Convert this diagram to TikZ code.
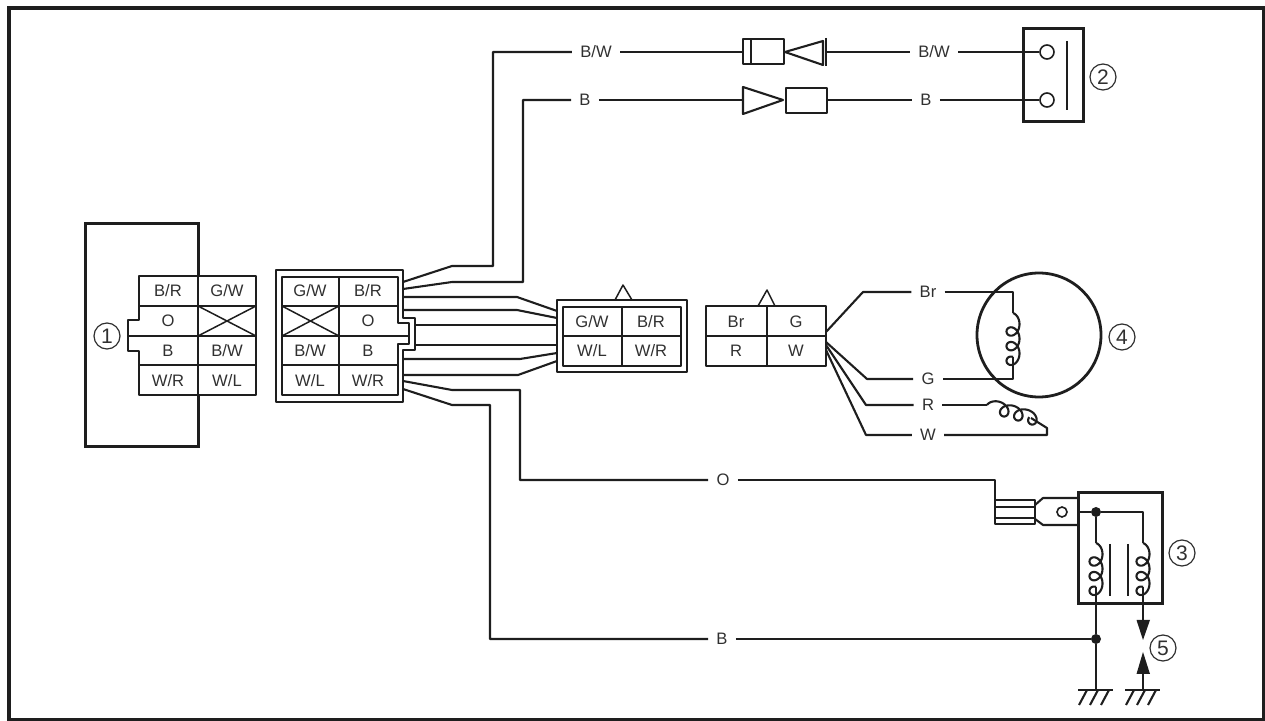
\documentclass[tikz,border=0pt]{standalone}
\usepackage{fontspec}
\setmainfont{Liberation Sans}
\usetikzlibrary{calc}
\definecolor{ink}{HTML}{1E1E1E}
\definecolor{txt}{HTML}{303030}
\tikzset{
  wire/.style={draw=ink, line width=1.05pt, line join=round},
  thin wire/.style={draw=ink, line width=0.75pt, line join=round},
  heavy/.style={draw=ink, line width=1.5pt, line join=miter},
  cell/.style={text=txt, font=\fontsize{8.3}{9}\selectfont, inner sep=0pt},
  wirelbl/.style={text=txt, font=\fontsize{8.3}{9}\selectfont, inner xsep=4pt, inner ysep=1pt},
  callout/.style={circle, draw=txt, line width=0.6pt, text=txt, inner sep=0pt, minimum size=13pt, font=\fontsize{10.5}{11}\selectfont},
  dot/.style={circle, fill=ink, inner sep=0pt, minimum size=5pt},
  hole/.style={circle, draw=ink, fill=white, line width=0.8pt, inner sep=0pt, minimum size=7pt},
  coil/.pic={
    \draw[wire] plot[domain=0:1080, samples=121, smooth] ({6.5*sin(\x)}, {0.0407*\x+7.5*(1-cos(\x))});
  },
  earth/.pic={
    \draw[wire] (-18,0) -- (17,0);
    \foreach \h in {-9,2,13} \draw[wire] (\h,0) -- ++(-8,15);
  }
}
\begin{document}
\begin{tikzpicture}[x=0.5pt, y=-0.5pt]
  \useasboundingbox (0,0) rectangle (1265,721);
  \draw[draw=ink, line width=1.9pt] (9,8) rectangle (1264,720);

  % connector 1 with its housing
  \draw[heavy] (198,276) -- (198,224) -- (85,224) -- (85,447) -- (198,447) -- (198,395);
  \draw[wire] (139,306) -- (139,276) -- (256,276) -- (256,395) -- (139,395) -- (139,365);
  \draw[wire] (139,306) -- (139,320) -- (128,320) -- (128,351) -- (139,351) -- (139,365);
  \draw[wire] (139,306) -- (256,306) (128,336) -- (256,336) (139,365) -- (256,365);
  \draw[thin wire] (198,276) -- (198,395);
  \draw[thin wire] (198,306) -- (256,336) (198,336) -- (256,306);
  \node[cell] (aBR) at (168,291) {B/R};
  \node[cell] (aGW) at (227,291) {G/W};
  \node[cell] (aO) at (168,321) {O};
  \node[cell] (aB) at (168,351) {B};
  \node[cell] (aBW) at (227,351) {B/W};
  \node[cell] (aWR) at (168,381) {W/R};
  \node[cell] (aWL) at (227,381) {W/L};
  \node[callout] (n1) at (107,336) {1};

  % connector 2, double walled
  \draw[wire] (276,270) -- (403,270) -- (403,318) -- (415,318) -- (415,350) -- (403,350) -- (403,402) -- (276,402) -- cycle;
  \draw[wire] (282,277) -- (398,277) -- (398,323) -- (409,323) -- (409,344) -- (398,344) -- (398,395) -- (282,395) -- cycle;
  \draw[wire] (282,306) -- (398,306) (282,336) -- (409,336) (282,365) -- (398,365);
  \draw[thin wire] (339,277) -- (339,395);
  \draw[thin wire] (282,306) -- (339,336) (282,336) -- (339,306);
  \node[cell] (bGW) at (310,291) {G/W};
  \node[cell] (bBR) at (368,291) {B/R};
  \node[cell] (bO) at (368,321) {O};
  \node[cell] (bBW) at (310,351) {B/W};
  \node[cell] (bB) at (368,351) {B};
  \node[cell] (bWL) at (310,381) {W/L};
  \node[cell] (bWR) at (368,381) {W/R};

  % connector 3
  \draw[wire] (557,300) rectangle (687,372);
  \draw[wire] (563,307) rectangle (681,366);
  \draw[wire] (563,336) -- (681,336);
  \draw[thin wire] (622,307) -- (622,366);
  \draw[thin wire] (615,300) -- (623,285) -- (632,300);
  \node[cell] (cGW) at (592,322) {G/W};
  \node[cell] (cBR) at (651,322) {B/R};
  \node[cell] (cWL) at (592,351) {W/L};
  \node[cell] (cWR) at (651,351) {W/R};

  % connector 4
  \draw[wire] (706,306) rectangle (826,366);
  \draw[thin wire] (706,336) -- (826,336) (767,306) -- (767,366);
  \draw[thin wire] (758,306) -- (767,290) -- (775,306);
  \node[cell] (dBr) at (736,322) {Br};
  \node[cell] (dG) at (796,322) {G};
  \node[cell] (dR) at (736,351) {R};
  \node[cell] (dW) at (796,351) {W};

  % labels on the long runs
  \node[wirelbl] (lBWa) at (596,52) {B/W};
  \node[wirelbl] (lBWb) at (934,52) {B/W};
  \node[wirelbl] (lBa) at (585,100) {B};
  \node[wirelbl] (lBb) at (926,100) {B};
  \node[wirelbl] (lO) at (723,480) {O};
  \node[wirelbl] (lB) at (722,639) {B};
  \node[wirelbl] (lBr) at (928,292) {Br};
  \node[wirelbl] (lG) at (928,379) {G};
  \node[wirelbl] (lR) at (928,405) {R};
  \node[wirelbl] (lW) at (928,435) {W};

  % harness
  \draw[wire] (403,282) -- (452,266) -- (493,266) -- (493,52) -- (lBWa);
  \draw[wire] (403,289) -- (452,282) -- (523,282) -- (523,100) -- (lBa);
  \draw[wire] (403,297) -- (517,297) -- (557,311);
  \draw[wire] (403,310) -- (517,310) -- (557,318);
  \draw[wire] (415,325) -- (557,325);
  \draw[wire] (415,345) -- (557,345);
  \draw[wire] (403,359) -- (520,359) -- (557,353);
  \draw[wire] (403,375) -- (518,375) -- (557,361);
  \draw[wire] (403,381) -- (452,390) -- (520,390) -- (520,480) -- (lO);
  \draw[wire] (403,389) -- (452,405) -- (490,405) -- (490,639) -- (lB);

  % part 2 and its two plugs
  \draw[wire] (lBWa) -- (743,52);
  \draw[wire] (743,39) rectangle (784,64);
  \draw[thin wire] (751,39) -- (751,64);
  \draw[wire] (785,52) -- (823,41) -- (823,65) -- cycle;
  \draw[wire] (826,38) -- (826,66);
  \draw[wire] (826,52) -- (lBWb);
  \draw[wire] (lBa) -- (743,100);
  \draw[wire] (743,87) -- (783,100) -- (743,114) -- cycle;
  \draw[wire] (786,88) rectangle (827,113);
  \draw[wire] (827,100) -- (lBb);
  \draw[heavy] (1023,29) rectangle (1083,122);
  \draw[wire] (1067,41) -- (1067,110);
  \node[hole] (ha) at (1047,52) {};
  \node[hole] (hb) at (1047,100) {};
  \draw[wire] (lBWb) -- (ha);
  \draw[wire] (lBb) -- (hb);
  \node[callout] (n2) at (1103,77) {2};

  % part 4
  \node[circle, draw=ink, line width=1.4pt, minimum size=62pt, inner sep=0pt] (rotor) at (1039,335) {};
  \draw[wire] (826,332) -- (863,292) -- (lBr);
  \draw[wire] (826,342) -- (867,379) -- (lG);
  \draw[wire] (826,345) -- (866,405) -- (lR);
  \draw[wire] (826,350) -- (866,435) -- (lW);
  \draw[wire] (lBr) -- (1013,292) -- (1013,313);
  \pic at (1013,313) {coil};
  \draw[wire] (1013,357) -- (1013,379) -- (lG);
  \draw[wire] (lR) -- (987,405);
  \pic[rotate=74] at (987,405) {coil};
  \draw[wire] (1031,418) -- (1047,428) -- (1047,435) -- (lW);
  \node[callout] (n4) at (1122,337) {4};

  % part 3
  \draw[wire] (lO) -- (995,480) -- (995,500);
  \draw[wire] (995,500) rectangle (1035,524);
  \draw[thin wire] (995,507) -- (1035,507) (995,518) -- (1035,518);
  \draw[wire] (1035,505) -- (1043,498) -- (1078,498) (1035,519) -- (1043,525) -- (1078,525);
  \node[hole, minimum size=5pt] (lug) at (1062,512) {};
  \draw[heavy] (1078,493) rectangle (1162,604);
  \node[dot] (ja) at (1096,512) {};
  \node[dot] (jb) at (1096,639) {};
  \draw[wire] (1078,512) -- (ja) -- (1143,512) -- (1143,543);
  \draw[wire] (ja) -- (1096,543);
  \pic at (1096,543) {coil};
  \pic at (1143,543) {coil};
  \draw[thin wire] (1110,544) -- (1110,596) (1128,544) -- (1128,596);
  \draw[wire] (1096,587) -- (jb) -- (1096,690);
  \draw[wire] (lB) -- (jb);
  \draw[wire] (1143,587) -- (1143,620);
  \fill[ink] (1136.5,620) -- (1150,620) -- (1143,640) -- cycle;
  \fill[ink] (1136.5,674) -- (1150,674) -- (1143,652) -- cycle;
  \draw[wire] (1143,674) -- (1143,690);
  \pic at (1096,690) {earth};
  \pic at (1143,690) {earth};
  \node[callout] (n3) at (1182,553) {3};
  \node[callout] (n5) at (1163,648) {5};
\end{tikzpicture}
\end{document}
